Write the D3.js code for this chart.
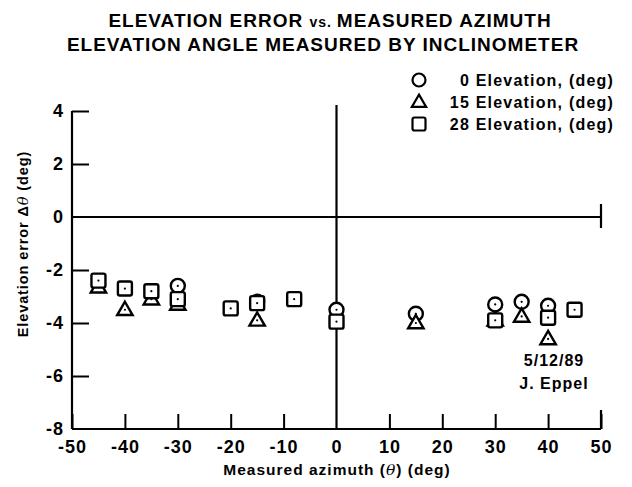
<!DOCTYPE html>
<html>
<head>
<meta charset="utf-8">
<script src="https://cdn.jsdelivr.net/npm/d3@7"></script>
<style>
  body { margin: 0; background: #fff; }
  text { font-family: "Liberation Sans", Arial, sans-serif; fill: #000; }
</style>
</head>
<body>
<svg id="chart" width="632" height="487"></svg>
<script>
// data
const xTicks = [-50, -40, -30, -20, -10, 0, 10, 20, 30, 40, 50]
const yTicks = [4, 2, 0, -2, -4, -6, -8]

const circleAz = [-30, -15, 0, 15, 30, 35, 40]
const circleErr = [-2.6, -3.2, -3.5, -3.65, -3.3, -3.2, -3.35]

const triangleAz = [-45, -40, -35, -30, -15, 15, 30, 35, 40]
const triangleErr = [-2.65, -3.5, -3.1, -3.3, -3.9, -4.0, -3.9, -3.75, -4.6]

const squareAz = [-45, -40, -35, -30, -20, -15, -8, 0, 30, 40, 45]
const squareErr = [-2.4, -2.7, -2.8, -3.1, -3.45, -3.25, -3.1, -3.95, -3.9, -3.8, -3.5]

const legendLabels = ['0 Elevation, (deg)', '15 Elevation, (deg)', '28 Elevation, (deg)']

const svg = d3.select('#chart')
const x = d3.scaleLinear().domain([-50, 50]).range([72, 601])
const y = d3.scaleLinear().domain([-8, 4]).range([429, 111])
const hyphen = d => String(d)

//
// titles
//
const title = svg.append('g').attr('font-weight', 'bold').attr('font-size', 19)
  .attr('letter-spacing', 1)
const t1 = title.append('text').attr('x', 330).attr('y', 27).attr('text-anchor', 'middle')
t1.append('tspan').text('ELEVATION ERROR ')
t1.append('tspan').attr('font-size', 14).text('vs. ')
t1.append('tspan').text('MEASURED AZIMUTH')
title.append('text').attr('x', 323).attr('y', 51).attr('text-anchor', 'middle')
  .text('ELEVATION ANGLE MEASURED BY INCLINOMETER')

//
// axes (ticks point inwards)
//
const xAxis = d3.axisBottom(x).tickValues(xTicks).tickSize(-15).tickPadding(11)
  .tickFormat(hyphen)
const gx = svg.append('g').attr('transform', 'translate(0,429)').call(xAxis)
gx.select('.domain').remove()
gx.selectAll('line').attr('stroke', '#000').attr('stroke-width', 2)
gx.selectAll('text').attr('font-size', 18).attr('font-weight', 'bold').attr('letter-spacing', 1)
  .attr('font-family', '"Liberation Sans", Arial, sans-serif').attr('fill', '#000')
gx.selectAll('.tick').filter(d => d === 0).select('line').remove()

const yAxis = d3.axisLeft(y).tickValues(yTicks).tickSize(-17).tickPadding(9)
  .tickFormat(hyphen)
const gy = svg.append('g').attr('transform', 'translate(72,0)').call(yAxis)
gy.select('.domain').remove()
gy.selectAll('line').attr('stroke', '#000').attr('stroke-width', 2)
gy.selectAll('text').attr('font-size', 18).attr('font-weight', 'bold').attr('letter-spacing', 1)
  .attr('font-family', '"Liberation Sans", Arial, sans-serif').attr('fill', '#000')
  .attr('x', -8)
gy.selectAll('.tick').filter(d => d === 0 || d === -8).select('line').remove()

const frame = svg.append('g').attr('stroke', '#000').attr('stroke-width', 2.2).attr('fill', 'none')
frame.append('line').attr('x1', x(-50)).attr('x2', x(-50)).attr('y1', y(4)).attr('y2', y(-8))
frame.append('line').attr('x1', x(-50)).attr('x2', x(50)).attr('y1', y(-8)).attr('y2', y(-8))
frame.append('line').attr('x1', x(50)).attr('x2', x(50)).attr('y1', y(-8) - 19).attr('y2', y(-8))
// zero lines
frame.append('line').attr('x1', x(-50)).attr('x2', x(50)).attr('y1', y(0)).attr('y2', y(0))
frame.append('line').attr('x1', x(0)).attr('x2', x(0)).attr('y1', y(4) - 6).attr('y2', y(-8))
frame.append('line').attr('x1', x(50)).attr('x2', x(50)).attr('y1', y(0) - 13).attr('y2', y(0) + 11)

//
// axis titles
//
const xl = svg.append('text').attr('x', 337).attr('y', 475).attr('text-anchor', 'middle')
  .attr('font-size', 15.5).attr('font-weight', 'bold').attr('letter-spacing', 1)
xl.append('tspan').text('Measured azimuth (')
xl.append('tspan').attr('font-style', 'italic').attr('font-weight', 'normal')
  .attr('font-family', '"DejaVu Serif", serif').text('θ')
xl.append('tspan').text(') (deg)')

const yl = svg.append('text').attr('transform', 'translate(28,244) rotate(-90)')
  .attr('text-anchor', 'middle').attr('font-size', 14.5).attr('font-weight', 'bold')
  .attr('letter-spacing', 0.9)
yl.append('tspan').text('Elevation error  Δ')
yl.append('tspan').attr('font-style', 'italic').attr('font-weight', 'normal')
  .attr('font-family', '"DejaVu Serif", serif').text('θ')
yl.append('tspan').text('  (deg)')

//
// markers
//
function drawMarker (g, shape, size) {
  if (shape === 'circle') {
    g.append('circle').attr('r', size * 0.5)
  } else if (shape === 'triangle') {
    const h = size * 0.95
    g.append('path').attr('d', `M0,${-h * 0.6}L${size * 0.55},${h * 0.4}L${-size * 0.55},${h * 0.4}Z`)
  } else {
    g.append('rect').attr('x', -size / 2).attr('y', -size / 2).attr('width', size).attr('height', size)
      .attr('rx', 2)
  }
}

const series = [
  { shape: 'circle', az: circleAz, err: circleErr },
  { shape: 'triangle', az: triangleAz, err: triangleErr },
  { shape: 'square', az: squareAz, err: squareErr }
]

const marks = svg.append('g').attr('fill', '#fff').attr('stroke', '#000').attr('stroke-width', 2.4)
series.forEach(s => {
  s.az.forEach((a, i) => {
    const g = marks.append('g').attr('transform', `translate(${x(a)},${y(s.err[i])})`)
    drawMarker(g, s.shape, 14)
    g.append('circle').attr('r', 1.1).attr('fill', '#000').attr('stroke', 'none')
  })
})

//
// legend
//
const legend = svg.append('g')
legendLabels.forEach((label, i) => {
  const ly = 80 + i * 22
  const g = legend.append('g').attr('transform', `translate(419,${ly})`)
    .attr('fill', 'none').attr('stroke', '#000').attr('stroke-width', 2.2)
  drawMarker(g, series[i].shape, 13)
  legend.append('text').attr('x', 614).attr('y', ly + 6).attr('text-anchor', 'end')
    .attr('font-size', 16).attr('font-weight', 'bold').attr('letter-spacing', 1.2).text(label)
})

//
// annotation
//
const note = svg.append('g').attr('font-size', 16).attr('font-weight', 'bold')
  .attr('text-anchor', 'middle').attr('letter-spacing', 1)
note.append('text').attr('x', 554).attr('y', 366).text('5/12/89')
note.append('text').attr('x', 554).attr('y', 389).text('J. Eppel')
</script>
</body>
</html>
